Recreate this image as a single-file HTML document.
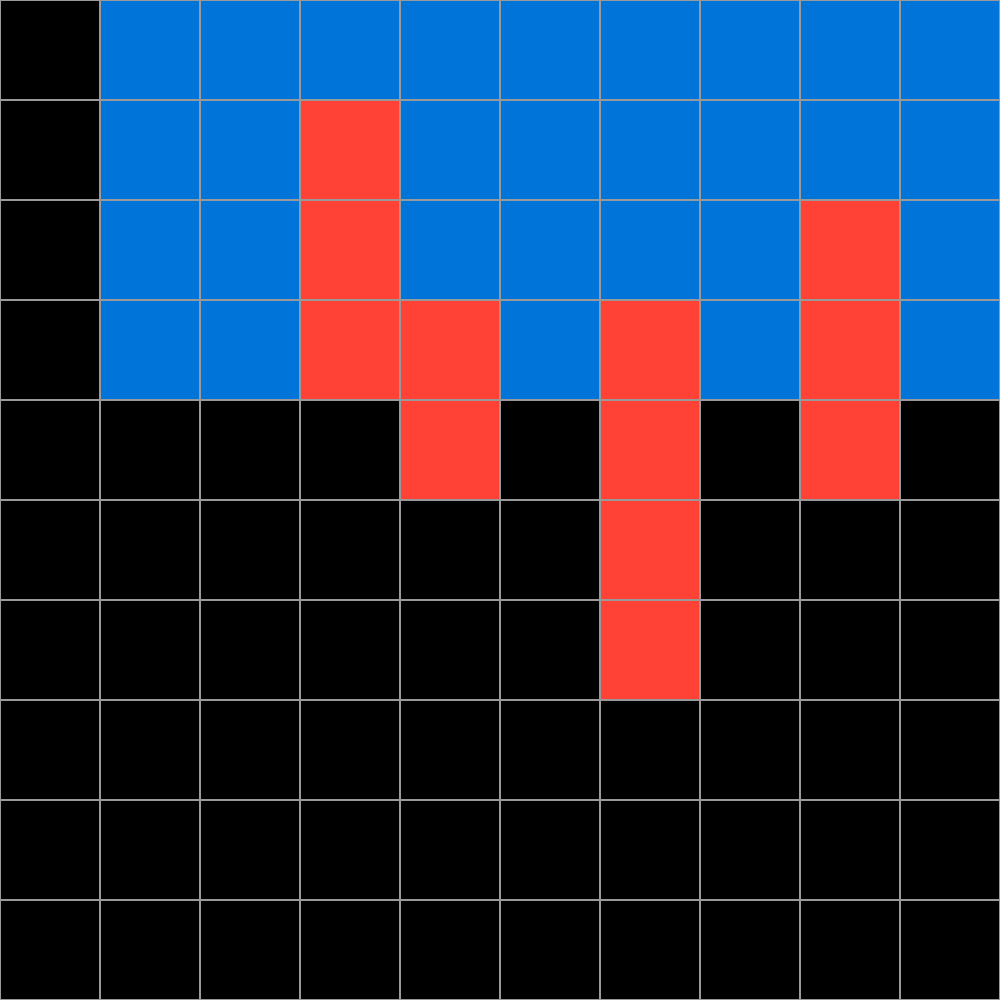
<!DOCTYPE html>
<html><head><meta charset="utf-8"><style>
html,body{margin:0;padding:0;background:#000;}
#grid{display:grid;grid-template-columns:repeat(10,100px);grid-template-rows:repeat(10,100px);width:1000px;height:1000px;}
.cell{box-sizing:border-box;border:1px solid #999;}
</style></head><body>
<div id="grid"></div>
<script>
const colors = ['#000000', '#0074D9', '#FF4136'];
const grid = [
  [0,1,1,1,1,1,1,1,1,1],
  [0,1,1,2,1,1,1,1,1,1],
  [0,1,1,2,1,1,1,1,2,1],
  [0,1,1,2,2,1,2,1,2,1],
  [0,0,0,0,2,0,2,0,2,0],
  [0,0,0,0,0,0,2,0,0,0],
  [0,0,0,0,0,0,2,0,0,0],
  [0,0,0,0,0,0,0,0,0,0],
  [0,0,0,0,0,0,0,0,0,0],
  [0,0,0,0,0,0,0,0,0,0]
];
const g = document.getElementById('grid');
grid.forEach((row, r) => row.forEach((v, c) => {
  const d = document.createElement('div');
  d.className = 'cell';
  d.style.background = colors[v];
  
  
  g.appendChild(d);
}));
</script>
</body></html>
